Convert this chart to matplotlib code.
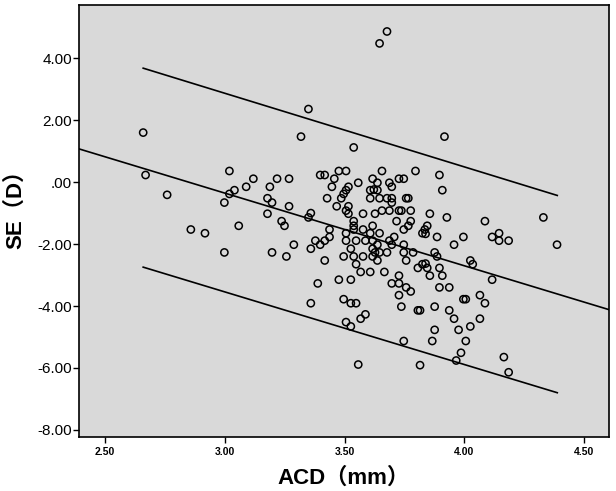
import matplotlib
matplotlib.use("Agg")
import matplotlib.pyplot as plt

# ---- data ----
acd = [3.677, 3.646, 3.349, 2.659, 3.318, 3.917, 3.538, 2.669, 2.759, 2.858,
       2.917, 2.998, 2.998, 3.019, 3.019, 3.040, 3.058, 3.089, 3.119, 3.178,
       3.188, 3.197, 3.178, 3.197, 3.218, 3.237, 3.249, 3.257, 3.268, 3.268,
       3.288, 3.349, 3.359, 3.359, 3.359, 3.378, 3.388, 3.398, 3.398, 3.417,
       3.417, 3.417, 3.427, 3.437, 3.437, 3.447, 3.457, 3.467, 3.476, 3.476,
       3.486, 3.496, 3.496, 3.496, 3.506, 3.506, 3.506, 3.506, 3.506, 3.506,
       3.516, 3.516, 3.516, 3.526, 3.526, 3.526, 3.526, 3.538, 3.538, 3.538,
       3.538, 3.548, 3.548, 3.548, 3.557, 3.557, 3.567, 3.567, 3.577, 3.577,
       3.577, 3.587, 3.587, 3.607, 3.607, 3.607, 3.607, 3.617, 3.617, 3.617,
       3.617, 3.617, 3.627, 3.627, 3.637, 3.637, 3.637, 3.637, 3.646, 3.646,
       3.646, 3.656, 3.656, 3.666, 3.677, 3.677, 3.687, 3.687, 3.687, 3.697,
       3.697, 3.697, 3.697, 3.707, 3.717, 3.727, 3.727, 3.727, 3.727, 3.727,
       3.737, 3.737, 3.747, 3.747, 3.747, 3.747, 3.747, 3.757, 3.757, 3.757,
       3.766, 3.766, 3.776, 3.776, 3.776, 3.786, 3.796, 3.806, 3.806, 3.815,
       3.815, 3.825, 3.825, 3.835, 3.845, 3.845, 3.856, 3.856, 3.866, 3.876,
       3.876, 3.876, 3.886, 3.886, 3.896, 3.896, 3.896, 3.908, 3.908, 3.927,
       3.937, 3.937, 3.957, 3.957, 3.966, 3.976, 3.986, 3.996, 3.996, 4.006,
       4.006, 4.025, 4.025, 4.035, 4.065, 4.065, 4.086, 4.086, 4.116, 4.116,
       4.145, 4.145, 4.165, 4.185, 4.185, 4.330, 4.387, 3.622, 3.697, 3.838,
       3.838]
se = [4.865, 4.48, 2.36, 1.60, 1.47, 1.47, 1.12, 0.23, -0.41, -1.53,
      -1.65, -0.66, -2.27, 0.36, -0.38, -0.26, -1.41, -0.15, 0.11, -0.52,
      -0.15, -0.66, -1.02, -2.27, 0.11, -1.26, -1.41, -2.40, 0.11, -0.78,
      -2.02, -1.14, -1.00, -2.15, -3.91, -1.89, -3.27, -2.02, 0.23, 0.23,
      -1.89, -2.53, -0.52, -1.77, -1.53, -0.15, 0.11, -0.78, 0.36, -3.15,
      -0.52, -0.38, -2.40, -3.78, 0.36, -0.26, -0.92, -1.65, -1.89, -4.52,
      -0.15, -0.78, -1.02, -2.15, -3.15, -3.91, -4.66, -1.26, -1.41, -1.53,
      -2.40, -1.89, -2.65, -3.91, -0.02, -5.89, -2.90, -4.41, -1.02, -1.53,
      -2.40, -4.27, -1.89, -0.26, -0.52, -1.65, -2.90, 0.11, -1.41, -1.89,
      -2.15, -2.40, -1.02, -2.27, -0.02, -0.26, -2.02, -2.53, -0.52, -1.65,
      -2.27, 0.36, -0.92, -2.90, -0.52, -2.27, -0.02, -0.92, -1.89, -0.15,
      -0.52, -2.02, -3.27, -1.77, -1.26, 0.11, -0.92, -3.02, -3.27, -3.65,
      -0.92, -4.02, 0.11, -1.53, -2.02, -2.27, -5.13, -0.52, -2.53, -3.40,
      -0.52, -1.41, -0.92, -1.26, -3.53, -2.27, 0.36, -2.77, -4.14, -4.14,
      -5.91, -1.65, -2.65, -1.53, -1.41, -2.77, -1.02, -3.02, -5.13, -2.27,
      -4.02, -4.77, -1.77, -2.40, 0.23, -2.77, -3.40, -0.26, -3.02, -1.14,
      -3.40, -4.14, -2.02, -4.41, -5.76, -4.77, -5.51, -1.77, -3.78, -5.13,
      -3.78, -2.53, -4.66, -2.65, -3.65, -4.41, -1.26, -3.91, -1.77, -3.15,
      -1.65, -1.89, -5.65, -1.89, -6.14, -1.14, -2.02, -0.24, -0.66, -2.63,
      -1.67]

# regression line and 95% prediction limits (end points)
fit_x = [2.39, 4.605]
fit_y = [1.076, -4.12]
pi_x = [2.659, 4.388]
pi_upper = [3.68, -0.43]
pi_lower = [-2.745, -6.80]

xticks = [2.50, 3.00, 3.50, 4.00, 4.50]
xtick_labels = ["2.50", "3.00", "3.50", "4.00", "4.50"]
yticks = [4.0, 2.0, 0.0, -2.0, -4.0, -6.0, -8.0]
ytick_labels = ["4.00", "2.00", ".00", "-2.00", "-4.00", "-6.00", "-8.00"]
xlabel = "ACD（mm）"
ylabel = "SE（D）"

# ---- figure ----
fig = plt.figure(figsize=(6.16, 4.91), dpi=100)
ax = fig.add_axes([79 / 616, 1 - 437 / 491, 530 / 616, 432 / 491])
ax.set_facecolor("#d9d9d9")

ax.plot(fit_x, fit_y, color="black", lw=1.2)
ax.plot(pi_x, pi_upper, color="black", lw=1.2)
ax.plot(pi_x, pi_lower, color="black", lw=1.2)
ax.scatter(acd, se, s=27, facecolors="none", edgecolors="black",
           linewidths=1.1, zorder=3)

ax.set_xlim(2.391, 4.604)
ax.set_ylim(-8.23, 5.72)

fam = ["Liberation Sans", "Noto Sans CJK SC", "DejaVu Sans"]
ax.set_xticks(xticks)
ax.set_xticklabels(xtick_labels, fontsize=7.5, fontweight="bold", family=fam)
ax.set_yticks(yticks)
ax.set_yticklabels(ytick_labels, fontsize=11, family=fam)
ax.tick_params(axis="both", direction="out", length=4, width=1.0, color="black")
ax.tick_params(axis="y", pad=1)
ax.tick_params(axis="x", pad=3)

for sp in ax.spines.values():
    sp.set_linewidth(1.2)
    sp.set_color("black")

ax.set_xlabel(xlabel, fontsize=16, fontweight="bold", family=fam)
ax.set_ylabel(ylabel, fontsize=16, fontweight="bold", family=fam)
ax.xaxis.set_label_coords(0.5, -0.07, transform=ax.transAxes)
ax.yaxis.set_label_coords(-0.1, 0.54, transform=ax.transAxes)

fig.savefig("out.png", dpi=100, facecolor="white")
